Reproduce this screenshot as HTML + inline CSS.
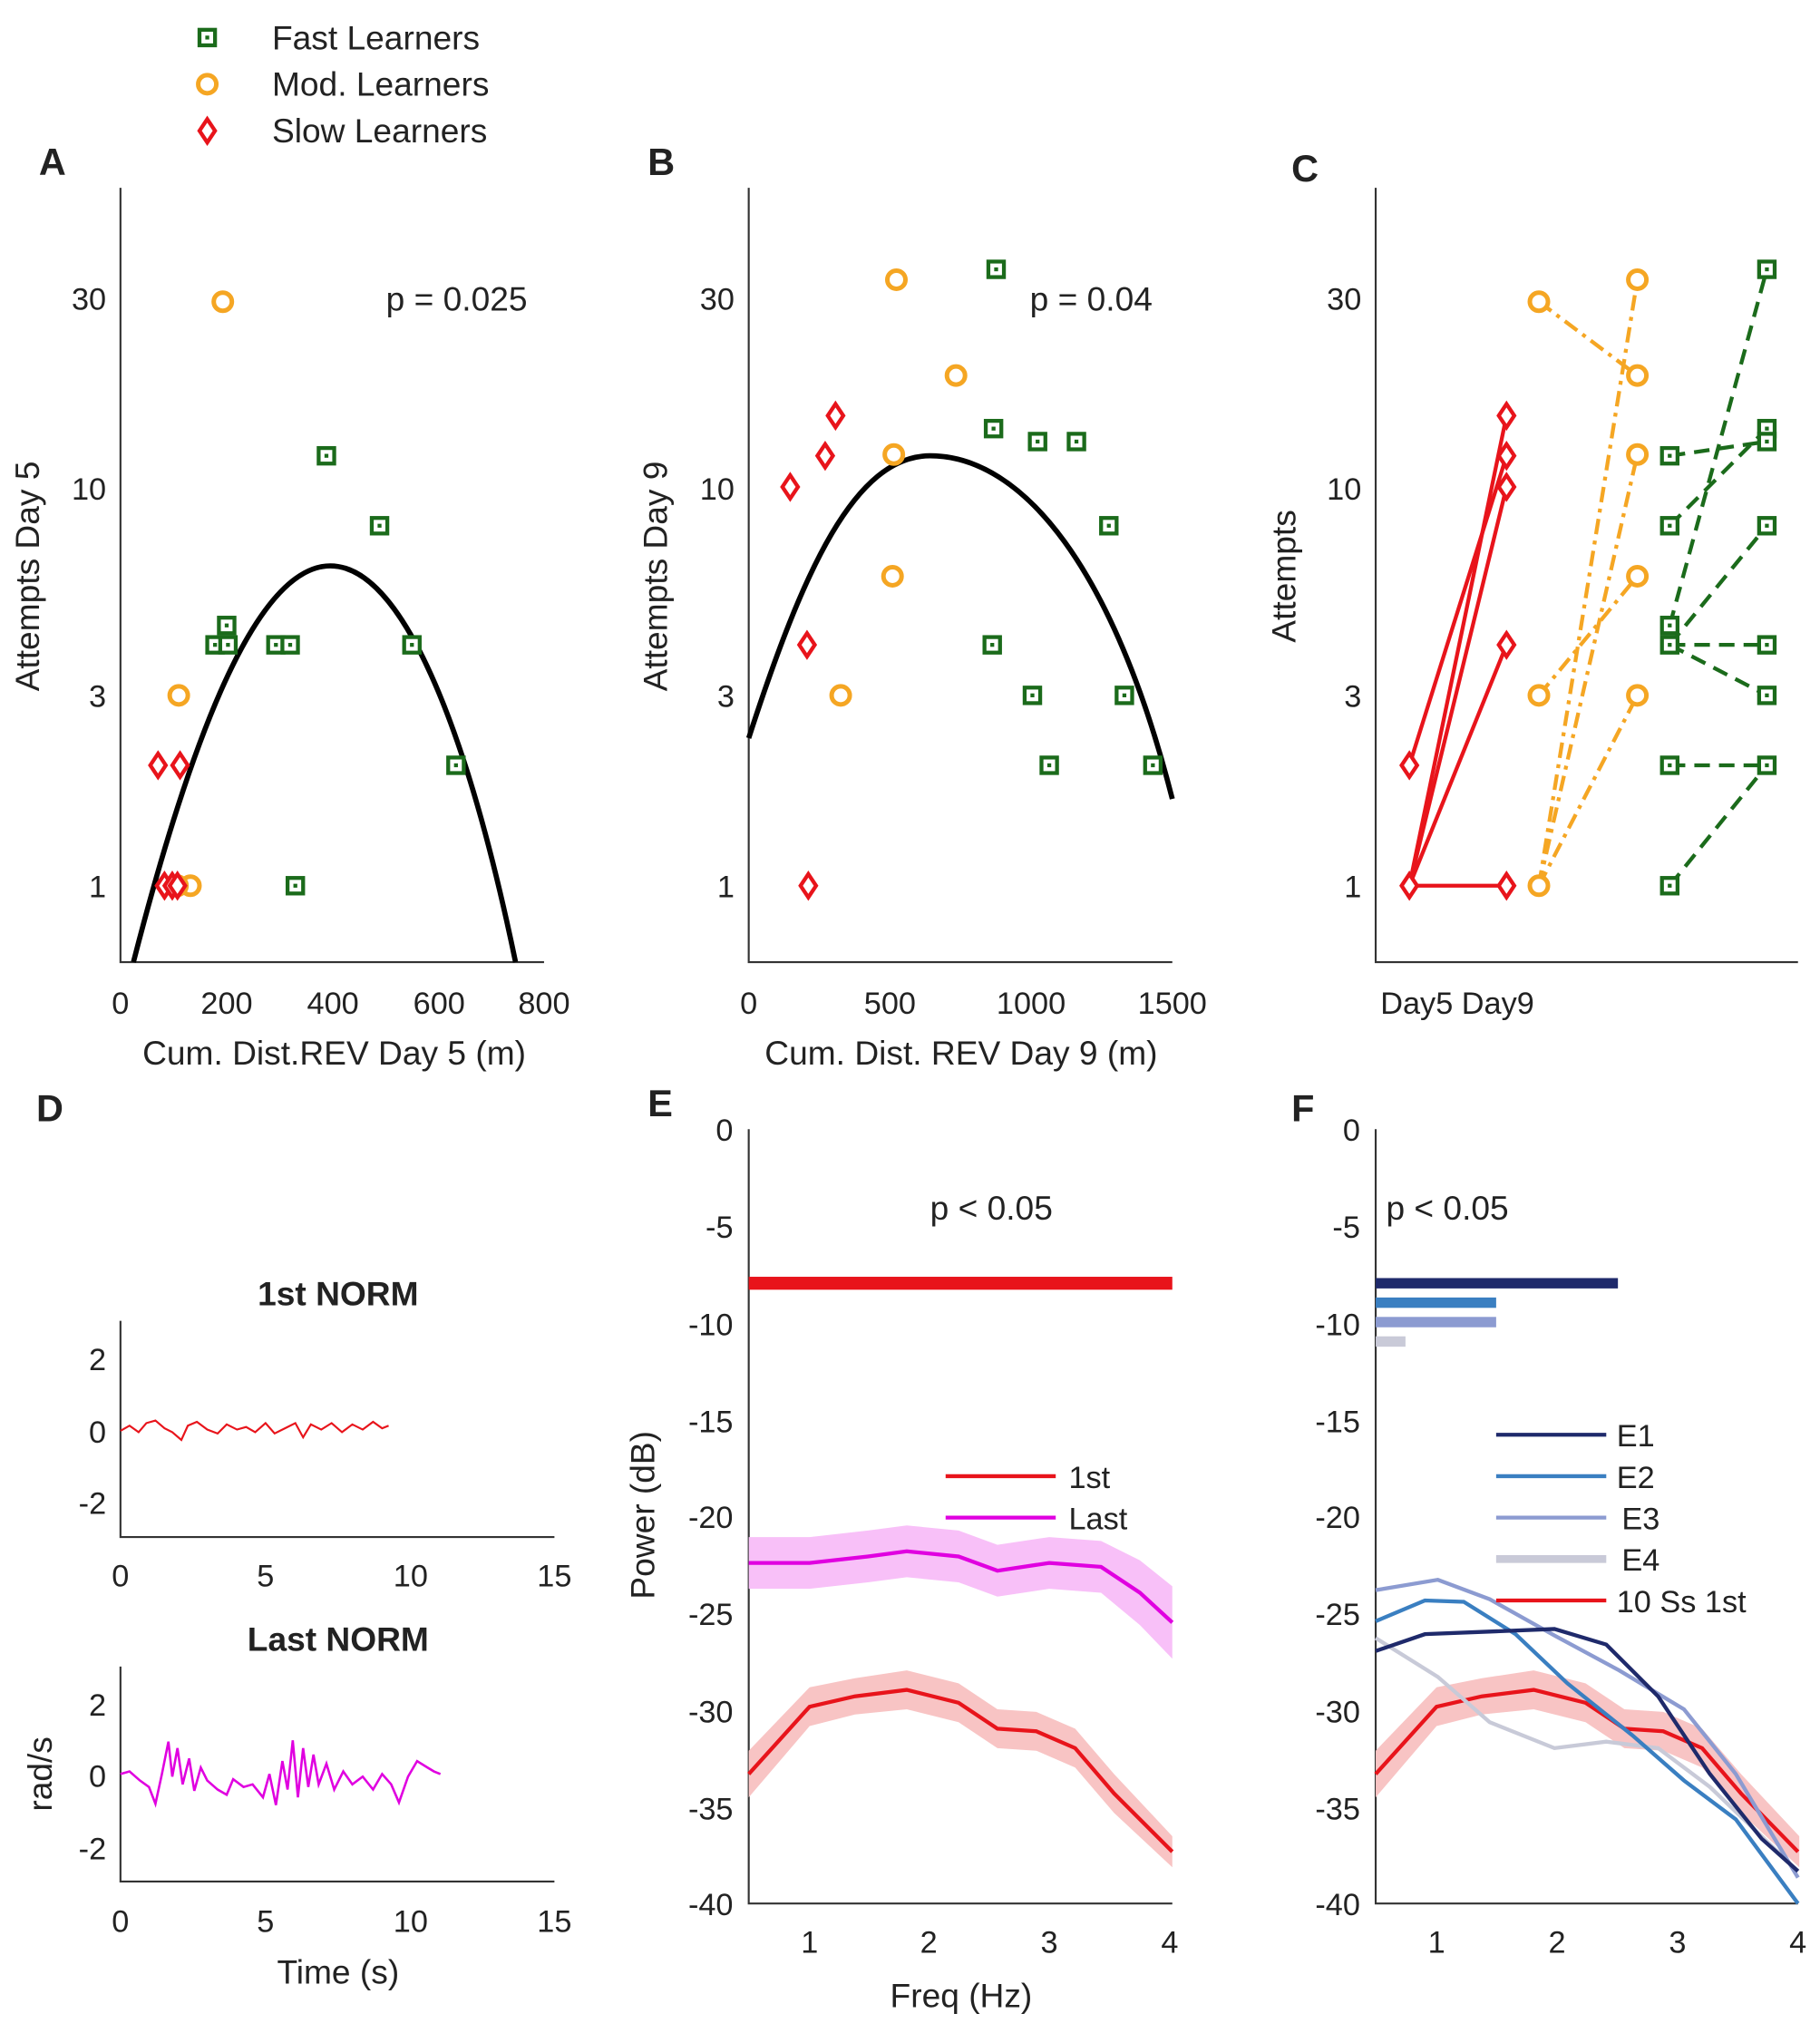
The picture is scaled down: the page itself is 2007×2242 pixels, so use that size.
<!DOCTYPE html>
<html><head><meta charset="utf-8"><style>
html,body{margin:0;padding:0;background:#fff}
svg{display:block}
text{font-family:"Liberation Sans",Arial,sans-serif;fill:#222}
.t{font-size:24px}
.l{font-size:26px}
.p{font-size:29px;font-weight:bold}
</style></head><body>
<svg width="2007" height="2242" viewBox="0 0 1405 1570" preserveAspectRatio="none" xmlns="http://www.w3.org/2000/svg">
<defs>
<g id="sq"><rect x="-6" y="-6" width="12" height="12" fill="#fff" stroke="#1b6b1b" stroke-width="3"/><rect x="-1.5" y="-1.5" width="3" height="3" fill="#1b6b1b"/></g>
<g id="ci"><circle r="7" fill="#fff" stroke="#f5a623" stroke-width="3.5"/></g>
<g id="di"><path d="M0,-9 L6,0 0,9 -6,0Z" fill="#fff" stroke="#e8141b" stroke-width="3"/></g>
</defs>
<!-- legend -->
<use href="#sq" x="160" y="29"/><use href="#ci" x="160" y="65"/><use href="#di" x="160" y="101"/>
<text class="l" x="210" y="38">Fast Learners</text>
<text class="l" x="210" y="74">Mod. Learners</text>
<text class="l" x="210" y="110">Slow Learners</text>
<text class="p" x="30" y="135">A</text><text class="p" x="500" y="135">B</text><text class="p" x="997" y="140">C</text>
<text class="p" x="28" y="866">D</text><text class="p" x="500" y="862">E</text><text class="p" x="997" y="866">F</text>

<g stroke="#333" stroke-width="1.5" fill="none">
<path d="M93,145V743H420"/><path d="M578,145V743H905"/><path d="M1062,145V743H1388"/>
<path d="M578,872V1470H905"/><path d="M1062,872V1470H1388"/>
<path d="M93,1020V1187H428"/><path d="M93,1287V1453H428"/>
</g>
<!-- ticks A B C y -->
<g class="t" text-anchor="end">
<text x="82" y="239">30</text><text x="82" y="386">10</text><text x="82" y="546">3</text><text x="82" y="693">1</text>
<text x="567" y="239">30</text><text x="567" y="386">10</text><text x="567" y="546">3</text><text x="567" y="693">1</text>
<text x="1051" y="239">30</text><text x="1051" y="386">10</text><text x="1051" y="546">3</text><text x="1051" y="693">1</text>
</g>
<g class="t" text-anchor="middle">
<text x="93" y="783">0</text><text x="175" y="783">200</text><text x="257" y="783">400</text><text x="339" y="783">600</text><text x="420" y="783">800</text>
<text x="578" y="783">0</text><text x="687" y="783">500</text><text x="796" y="783">1000</text><text x="905" y="783">1500</text>
<text x="1125" y="783">Day5 Day9</text>
</g>
<g class="l" text-anchor="middle">
<text x="258" y="822">Cum. Dist.REV Day 5 (m)</text>
<text x="742" y="822">Cum. Dist. REV Day 9 (m)</text>
<text transform="translate(30,445) rotate(-90)">Attempts Day 5</text>
<text transform="translate(515,445) rotate(-90)">Attempts Day 9</text>
<text transform="translate(1000,445) rotate(-90)">Attempts</text>
</g>
<text class="l" x="298" y="240">p = 0.025</text>
<text class="l" x="795" y="240">p = 0.04</text>
<path d="M103,743 C150,560 200,437 255,437 C310,437 360,560 398,743" fill="none" stroke="#000" stroke-width="4"/>
<path d="M578,570 C620,440 660,352 718,352 C790,352 860,440 905,617" fill="none" stroke="#000" stroke-width="4"/>
<!-- A points -->
<g>
<use href="#sq" x="252" y="352"/><use href="#sq" x="293" y="406"/><use href="#sq" x="166" y="498"/><use href="#sq" x="175" y="483"/><use href="#sq" x="176" y="498"/><use href="#sq" x="213" y="498"/><use href="#sq" x="224" y="498"/><use href="#sq" x="318" y="498"/><use href="#sq" x="352" y="591"/><use href="#sq" x="228" y="684"/>
<use href="#ci" x="172" y="233"/><use href="#ci" x="138" y="537"/><use href="#ci" x="147" y="684"/><use href="#ci" x="137" y="684"/>
<use href="#di" x="122" y="591"/><use href="#di" x="139" y="591"/><use href="#di" x="127" y="684"/><use href="#di" x="133" y="684"/><use href="#di" x="137" y="684"/>
</g>
<!-- B points -->
<g>
<use href="#ci" x="692" y="216"/><use href="#ci" x="738" y="290"/><use href="#ci" x="690" y="351"/><use href="#ci" x="689" y="445"/><use href="#ci" x="649" y="537"/>
<use href="#sq" x="769" y="208"/><use href="#sq" x="767" y="331"/><use href="#sq" x="801" y="341"/><use href="#sq" x="831" y="341"/><use href="#sq" x="856" y="406"/><use href="#sq" x="766" y="498"/><use href="#sq" x="797" y="537"/><use href="#sq" x="868" y="537"/><use href="#sq" x="810" y="591"/><use href="#sq" x="890" y="591"/>
<use href="#di" x="645" y="321"/><use href="#di" x="637" y="352"/><use href="#di" x="610" y="376"/><use href="#di" x="623" y="498"/><use href="#di" x="624" y="684"/>
</g>
<!-- C lines -->
<g stroke="#e8141b" stroke-width="3">
<line x1="1088" y1="591" x2="1163" y2="352"/><line x1="1088" y1="684" x2="1163" y2="321"/><line x1="1088" y1="684" x2="1163" y2="376"/><line x1="1088" y1="684" x2="1163" y2="498"/><line x1="1088" y1="684" x2="1163" y2="684"/>
</g>
<g stroke="#f5a623" stroke-width="3" stroke-dasharray="12,5,3,5">
<line x1="1188" y1="233" x2="1264" y2="290"/><line x1="1188" y1="537" x2="1264" y2="445"/><line x1="1188" y1="684" x2="1264" y2="216"/><line x1="1188" y1="684" x2="1264" y2="351"/><line x1="1188" y1="684" x2="1264" y2="537"/>
</g>
<g stroke="#1b6b1b" stroke-width="3" stroke-dasharray="12,7">
<line x1="1289" y1="352" x2="1364" y2="341"/><line x1="1289" y1="406" x2="1364" y2="331"/><line x1="1289" y1="483" x2="1364" y2="208"/><line x1="1289" y1="498" x2="1364" y2="406"/><line x1="1289" y1="498" x2="1364" y2="498"/><line x1="1289" y1="498" x2="1364" y2="537"/><line x1="1289" y1="591" x2="1364" y2="591"/><line x1="1289" y1="684" x2="1364" y2="591"/>
</g>
<g>
<use href="#di" x="1088" y="591"/><use href="#di" x="1088" y="684"/><use href="#di" x="1163" y="352"/><use href="#di" x="1163" y="321"/><use href="#di" x="1163" y="376"/><use href="#di" x="1163" y="498"/><use href="#di" x="1163" y="684"/>
<use href="#ci" x="1188" y="233"/><use href="#ci" x="1188" y="537"/><use href="#ci" x="1188" y="684"/><use href="#ci" x="1264" y="216"/><use href="#ci" x="1264" y="290"/><use href="#ci" x="1264" y="351"/><use href="#ci" x="1264" y="445"/><use href="#ci" x="1264" y="537"/>
<use href="#sq" x="1289" y="352"/><use href="#sq" x="1289" y="406"/><use href="#sq" x="1289" y="483"/><use href="#sq" x="1289" y="498"/><use href="#sq" x="1289" y="591"/><use href="#sq" x="1289" y="684"/>
<use href="#sq" x="1364" y="208"/><use href="#sq" x="1364" y="331"/><use href="#sq" x="1364" y="341"/><use href="#sq" x="1364" y="406"/><use href="#sq" x="1364" y="498"/><use href="#sq" x="1364" y="537"/><use href="#sq" x="1364" y="591"/>
</g>

<!-- D -->
<text x="261" y="1008" text-anchor="middle" style="font-size:26px;font-weight:bold">1st NORM</text>
<text x="261" y="1275" text-anchor="middle" style="font-size:26px;font-weight:bold">Last NORM</text>
<g class="t" text-anchor="end">
<text x="82" y="1058">2</text><text x="82" y="1114">0</text><text x="82" y="1169">-2</text>
<text x="82" y="1325">2</text><text x="82" y="1380">0</text><text x="82" y="1436">-2</text>
</g>
<g class="t" text-anchor="middle">
<text x="93" y="1225">0</text><text x="205" y="1225">5</text><text x="317" y="1225">10</text><text x="428" y="1225">15</text>
<text x="93" y="1492">0</text><text x="205" y="1492">5</text><text x="317" y="1492">10</text><text x="428" y="1492">15</text>
</g>
<text class="l" x="261" y="1532" text-anchor="middle">Time (s)</text>
<text class="l" transform="translate(40,1370) rotate(-90)" text-anchor="middle">rad/s</text>
<polyline fill="none" stroke="#e8141b" stroke-width="1.5" points="93,1105 100,1101 107,1106 113,1099 120,1097 127,1103 133,1106 140,1112 145,1101 152,1098 160,1104 168,1107 175,1100 183,1104 190,1102 197,1106 205,1099 212,1107 220,1103 228,1099 234,1110 240,1100 248,1104 256,1099 264,1106 272,1100 280,1104 288,1098 295,1103 300,1101"/>
<polyline fill="none" stroke="#e000e0" stroke-width="1.8" points="93,1370 100,1368 108,1375 115,1380 120,1393 125,1370 130,1345 133,1372 137,1350 141,1378 146,1358 150,1383 155,1365 160,1375 168,1382 175,1386 180,1374 188,1380 195,1378 203,1388 208,1370 213,1394 218,1360 222,1382 226,1344 230,1388 234,1350 238,1380 242,1355 246,1378 252,1362 258,1382 265,1368 272,1378 280,1372 288,1382 295,1370 302,1378 308,1392 315,1372 322,1360 330,1365 335,1368 340,1370"/>

<!-- E -->
<g class="t" text-anchor="end">
<text x="566" y="881">0</text><text x="566" y="956">-5</text><text x="566" y="1031">-10</text><text x="566" y="1106">-15</text><text x="566" y="1180">-20</text><text x="566" y="1255">-25</text><text x="566" y="1330">-30</text><text x="566" y="1405">-35</text><text x="566" y="1479">-40</text>
<text x="1050" y="881">0</text><text x="1050" y="956">-5</text><text x="1050" y="1031">-10</text><text x="1050" y="1106">-15</text><text x="1050" y="1180">-20</text><text x="1050" y="1255">-25</text><text x="1050" y="1330">-30</text><text x="1050" y="1405">-35</text><text x="1050" y="1479">-40</text>
</g>
<g class="t" text-anchor="middle">
<text x="625" y="1508">1</text><text x="717" y="1508">2</text><text x="810" y="1508">3</text><text x="903" y="1508">4</text>
<text x="1109" y="1508">1</text><text x="1202" y="1508">2</text><text x="1295" y="1508">3</text><text x="1388" y="1508">4</text>
</g>
<text class="l" x="742" y="1550" text-anchor="middle">Freq (Hz)</text>
<text class="l" transform="translate(505,1170) rotate(-90)" text-anchor="middle">Power (dB)</text>
<text class="l" x="718" y="942">p &lt; 0.05</text>
<rect x="578" y="986" width="327" height="10" fill="#e8141b"/>
<path d="M578,1187 L625,1187 670,1182 700,1178 740,1182 770,1193 810,1187 850,1190 880,1205 905,1225 L905,1281 880,1255 850,1230 810,1227 770,1233 740,1222 700,1218 670,1222 625,1227 578,1227Z" fill="#f8c0f8"/>
<polyline fill="none" stroke="#e000e0" stroke-width="3" points="578,1207 625,1207 670,1202 700,1198 740,1202 770,1213 810,1207 850,1210 880,1230 905,1253"/>
<path id="rb" d="M578,1352 L625,1303 660,1296 700,1290 740,1300 770,1320 800,1322 830,1335 860,1370 905,1418 L905,1442 860,1400 830,1365 800,1352 770,1350 740,1330 700,1320 660,1324 625,1333 578,1388Z" fill="#f8c4c4"/>
<polyline fill="none" stroke="#e8141b" stroke-width="3" points="578,1370 625,1318 660,1310 700,1305 740,1315 770,1335 800,1337 830,1350 860,1385 905,1430"/>
<line x1="730" y1="1140" x2="815" y2="1140" stroke="#e8141b" stroke-width="3"/>
<line x1="730" y1="1172" x2="815" y2="1172" stroke="#e000e0" stroke-width="3"/>
<text class="t" x="825" y="1149">1st</text><text class="t" x="825" y="1181">Last</text>

<!-- F -->
<text class="l" x="1070" y="942">p &lt; 0.05</text>
<rect x="1062" y="987" width="187" height="8" fill="#1f2a6b"/>
<rect x="1062" y="1002" width="93" height="8" fill="#3a7fc1"/>
<rect x="1062" y="1017" width="93" height="8" fill="#8c9bd1"/>
<rect x="1062" y="1032" width="23" height="8" fill="#c9cad8"/>
<use href="#rb" transform="translate(484,0)"/>
<polyline fill="none" stroke="#e8141b" stroke-width="3" points="1062,1370 1109,1318 1144,1310 1184,1305 1224,1315 1254,1335 1284,1337 1314,1350 1344,1385 1388,1430"/>
<polyline fill="none" stroke="#c8cad8" stroke-width="3" points="1062,1265 1110,1295 1150,1330 1200,1350 1240,1345 1280,1350 1320,1380 1388,1445"/>
<polyline fill="none" stroke="#8c9bd1" stroke-width="3" points="1062,1228 1110,1220 1150,1235 1200,1263 1250,1290 1300,1320 1340,1370 1388,1450"/>
<polyline fill="none" stroke="#3a7fc1" stroke-width="3" points="1062,1252 1100,1236 1130,1237 1170,1262 1210,1300 1260,1340 1300,1375 1340,1405 1388,1470"/>
<polyline fill="none" stroke="#1f2a6b" stroke-width="3" points="1062,1275 1100,1262 1150,1260 1200,1258 1240,1270 1280,1310 1320,1370 1360,1420 1388,1445"/>
<g stroke-width="3">
<line x1="1155" y1="1108" x2="1240" y2="1108" stroke="#1f2a6b"/>
<line x1="1155" y1="1140" x2="1240" y2="1140" stroke="#3a7fc1"/>
<line x1="1155" y1="1172" x2="1240" y2="1172" stroke="#8c9bd1"/>
<line x1="1155" y1="1204" x2="1240" y2="1204" stroke="#c9cad8" stroke-width="6"/>
<line x1="1155" y1="1236" x2="1240" y2="1236" stroke="#e8141b"/>
</g>
<g class="t"><text x="1248" y="1117">E1</text><text x="1248" y="1149">E2</text><text x="1252" y="1181">E3</text><text x="1252" y="1213">E4</text><text x="1248" y="1245">10 Ss 1st</text></g>
</svg>
</body></html>
